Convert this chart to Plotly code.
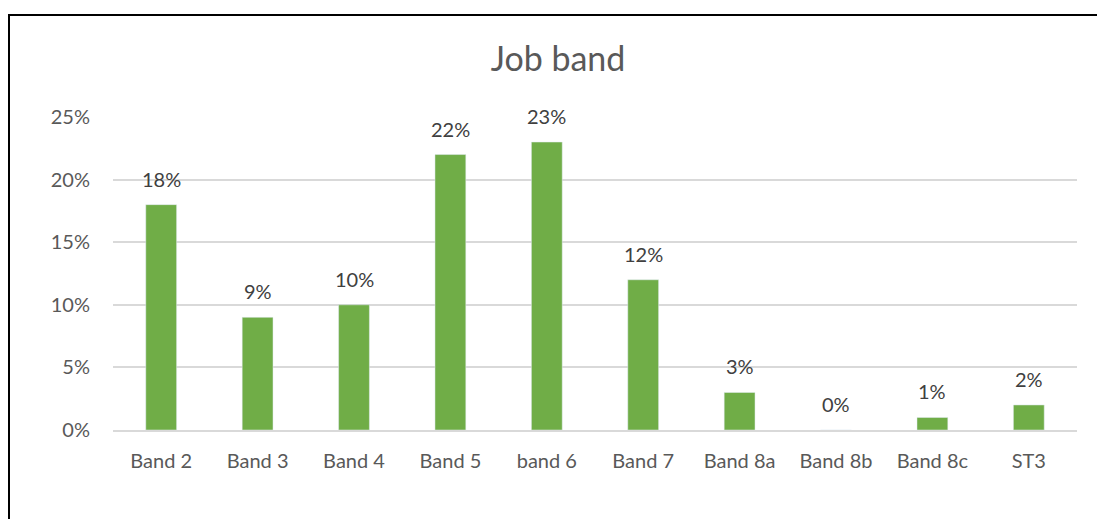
import plotly.graph_objects as go

categories = ["Band 2", "Band 3", "Band 4", "Band 5", "band 6", "Band 7", "Band 8a", "Band 8b", "Band 8c", "ST3"]
values = [0.18, 0.09, 0.10, 0.22, 0.23, 0.12, 0.03, 0.00, 0.01, 0.02]
labels = ["18%", "9%", "10%", "22%", "23%", "12%", "3%", "0%", "1%", "2%"]
y_ticks = [0, 0.05, 0.10, 0.15, 0.20, 0.25]
y_tick_text = ["0%", "5%", "10%", "15%", "20%", "25%"]

FONT = "Lato"
W, H = 1097, 519
L, R, T, B = 113, 20, 117, 89
pw, ph = W - L - R, H - T - B

fig = go.Figure(go.Bar(x=categories, y=values, marker_color="#70AD47", width=0.32,
                       hoverinfo="skip"))

for c, v, t in zip(categories, values, labels):
    fig.add_annotation(x=c, y=v, text=t, showarrow=False, yanchor="middle", yshift=26,
                       font=dict(family=FONT, size=20, color="#404040"))

def px(x):
    return (x - L) / pw

def py(y):
    return (H - B - y) / ph

fig.add_shape(type="path", xref="paper", yref="paper",
              path=f"M {px(9)} {py(530)} L {px(9)} {py(15)} L {px(1100)} {py(15)}",
              line=dict(color="black", width=2))

fig.update_layout(
    width=W, height=H,
    margin=dict(l=L, r=R, t=T, b=B),
    paper_bgcolor="white", plot_bgcolor="white",
    showlegend=False,
    title=dict(text="Job band", x=558 / W, xref="container", xanchor="center",
               y=1 - 59 / H, yanchor="middle",
               font=dict(family=FONT, size=34, color="#595959")),
    xaxis=dict(showgrid=False, showline=True, linecolor="#D9D9D9", linewidth=1.5,
               ticks="", tickfont=dict(family=FONT, size=20, color="#595959"),
               ticklabelstandoff=12),
    yaxis=dict(range=[0, 0.25], tickvals=y_ticks, ticktext=y_tick_text,
               showgrid=True, gridcolor="#D9D9D9", gridwidth=1.5, zeroline=False,
               showline=False, ticks="",
               tickfont=dict(family=FONT, size=20, color="#595959"),
               ticklabelstandoff=22),
)

fig.write_html("out.html")
